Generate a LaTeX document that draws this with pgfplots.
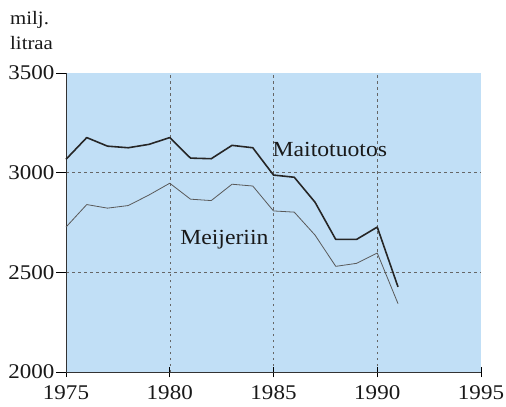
\documentclass[border=0pt]{standalone}
\usepackage{fontspec}
\setmainfont[FakeStretch=1.1]{Liberation Serif}
\usepackage{pgfplots}
\pgfplotsset{compat=1.18}
\definecolor{bgblue}{RGB}{193,223,246}
\begin{document}
\begin{tikzpicture}
\begin{axis}[
  at={(0,0)}, anchor=south west,
  scale only axis, width=415bp, height=299bp,
  xmin=1975, xmax=1995, ymin=2000, ymax=3500,
  xtick={1975,1980,1985,1990,1995},
  ytick={2000,2500,3000,3500},
  axis line style={draw=none},
  axis background/.style={fill=bgblue},
  tick pos=left,
  xtick align=center, ytick align=outside,
  major tick length=10bp,
  every tick/.style={black, line width=0.9pt},
  extra x ticks={1980,1985,1990}, extra x tick labels={},
  extra y ticks={2500,3000}, extra y tick labels={},
  extra tick style={grid=major},
  major grid style={black!60, line width=0.5pt, dash pattern=on 2.5bp off 3.5bp},
  /pgf/number format/assume math mode=true,
  /pgf/number format/1000 sep={},
  tick label style={font=\fontsize{21}{23}\selectfont, text=black!90},
  yticklabel style={xshift=2bp},
  xticklabel style={yshift=-5bp},
  clip=false,
]
\draw[black!80, line width=0.7pt] (rel axis cs:0,1) -- (rel axis cs:0,0) -- (rel axis cs:1,0);
\addplot[color=black!85, line width=1.6pt, line join=round] coordinates {
(1975,3067)(1976,3176)(1977,3133)(1978,3125)(1979,3142)(1980,3176)
(1981,3073)(1982,3070)(1983,3137)(1984,3125)(1985,2988)(1986,2977)
(1987,2852)(1988,2665)(1989,2665)(1990,2727)(1991,2427)};
\addplot[color=black!65, line width=0.8pt, line join=round] coordinates {
(1975,2727)(1976,2840)(1977,2822)(1978,2835)(1979,2888)(1980,2947)
(1981,2867)(1982,2860)(1983,2942)(1984,2933)(1985,2808)(1986,2802)
(1987,2687)(1988,2530)(1989,2545)(1990,2597)(1991,2343)};
\node[anchor=base west, inner sep=0pt, text=black!90, font=\fontsize{21.6}{23}\selectfont] at (axis cs:1984.95,3083) {Maitotuotos};
\node[anchor=base west, inner sep=0pt, text=black!90, font=\fontsize{21.6}{23}\selectfont] at (axis cs:1980.5,2641) {Meijeriin};
\end{axis}
\node[anchor=base west, inner sep=0pt, text=black!90, font=\fontsize{19}{21}\selectfont] at (-56bp,347bp) {milj.};
\node[anchor=base west, inner sep=0pt, text=black!90, font=\fontsize{19}{21}\selectfont] at (-56bp,322bp) {litraa};
\pgfresetboundingbox
\useasboundingbox (-66bp,-35bp) rectangle (440bp,372bp);
\end{tikzpicture}
\end{document}
